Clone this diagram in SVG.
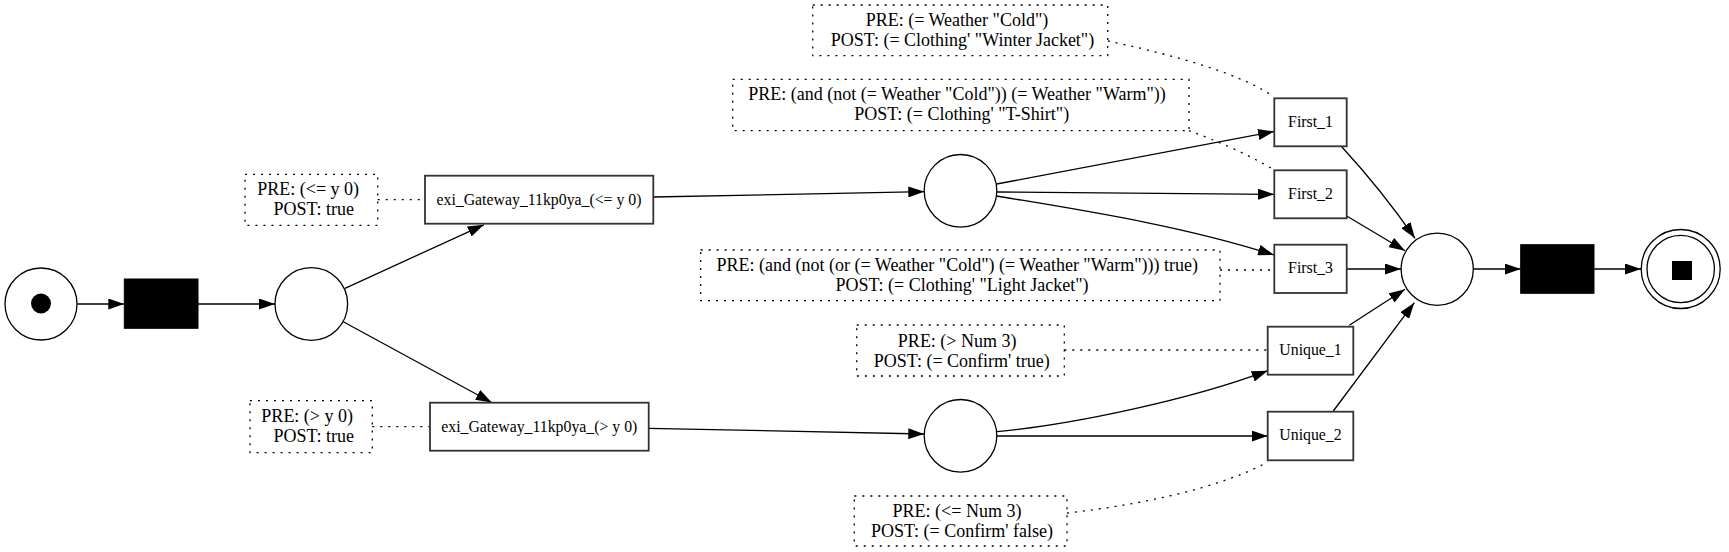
<svg xmlns="http://www.w3.org/2000/svg" width="1729" height="552" viewBox="0 0 1729 552">
<style>
  .place{fill:#fff;stroke:#000;stroke-width:1.3}
  .trans{fill:#fff;stroke:#333;stroke-width:1.8}
  .silent{fill:#000;stroke:#000;stroke-width:1}
  .note{fill:none;stroke:#000;stroke-width:1.3;stroke-dasharray:2 6}
  .lbl{font-family:"Liberation Serif","Times New Roman",serif;font-size:15.8px;fill:#000;text-anchor:middle}
  .ntxt{font-family:"Liberation Serif","Times New Roman",serif;font-size:18px;fill:#000;text-anchor:middle}
  .edge{fill:none;stroke:#000;stroke-width:1.3;marker-end:url(#arr)}
  .dot{fill:none;stroke:#000;stroke-width:1.3;stroke-dasharray:2 6}
</style>
<defs>
  <marker id="arr" markerUnits="userSpaceOnUse" markerWidth="16" markerHeight="11" refX="16" refY="5.5" orient="auto">
    <path d="M0,0 L16,5.5 L0,11 z" fill="#000"/>
  </marker>
</defs>
<rect width="1729" height="552" fill="#fff"/>

<g id="connectors">
  <path class="edge" d="M77.3,304 L124.3,304"/>
  <path class="edge" d="M198,304 L275,304"/>
  <path class="edge" d="M345,288.3 L483.8,224.8"/>
  <path class="edge" d="M343.3,321.7 L491.7,402.5"/>
  <path class="edge" d="M653.3,197 L924.3,191.6"/>
  <path class="edge" d="M648.7,428.3 L924.3,434"/>
  <path class="edge" d="M996.7,184 L1274,131.5"/>
  <path class="edge" d="M996.7,192 L1274,194.3"/>
  <path class="edge" d="M996.7,196 C1080,210 1180,225 1274,255"/>
  <path class="edge" d="M996.7,431.7 C1070,425 1190,400 1267.7,370.7"/>
  <path class="edge" d="M996.7,436 L1267.7,436"/>
  <path class="edge" d="M1341.7,146.7 C1365,172 1392,205 1415,238.3"/>
  <path class="edge" d="M1346.7,216 L1405,250.7"/>
  <path class="edge" d="M1346.7,269 L1401,269"/>
  <path class="edge" d="M1349.3,325.3 L1405,289.3"/>
  <path class="edge" d="M1333.3,411 L1414.3,302.7"/>
  <path class="edge" d="M1473.3,269 L1520.7,269"/>
  <path class="edge" d="M1594,269 L1641,269"/>
  <path class="dot" d="M377.7,199.7 L425,199.7"/>
  <path class="dot" d="M372.3,426.7 L430,426.7"/>
  <path class="dot" d="M1108,41 C1160,52 1240,72 1274,97"/>
  <path class="dot" d="M1189,130.7 C1215,140 1250,155 1274,170"/>
  <path class="dot" d="M1220,270 L1274,270"/>
  <path class="dot" d="M1064.3,350 L1267.7,350"/>
  <path class="dot" d="M1067,513 C1140,505 1220,488 1267.7,462"/>
</g>

<g id="p_start">
  <circle class="place" cx="41" cy="304" r="36"/>
  <circle cx="41" cy="303.5" r="10" fill="#000"/>
</g>
<g id="t_start">
  <rect class="silent" x="124.3" y="279" width="73.7" height="49.3"/>
</g>
<g id="p_split">
  <circle class="place" cx="311.3" cy="304" r="36.3"/>
</g>
<g id="t_gw_le">
  <rect class="trans" x="425" y="175.7" width="228.3" height="48"/>
  <text class="lbl" x="539" y="205">exi_Gateway_11kp0ya_(&lt;= y 0)</text>
</g>
<g id="n_gw_le">
  <rect class="note" x="245" y="174.3" width="132.7" height="51"/>
  <text class="ntxt" x="308.2" y="195">PRE: (&lt;= y 0)</text>
  <text class="ntxt" x="313.7" y="215">POST: true</text>
</g>
<g id="t_gw_gt">
  <rect class="trans" x="430" y="402.7" width="218.7" height="48"/>
  <text class="lbl" x="539.3" y="431.7">exi_Gateway_11kp0ya_(&gt; y 0)</text>
</g>
<g id="n_gw_gt">
  <rect class="note" x="250" y="400.7" width="122.3" height="52"/>
  <text class="ntxt" x="307.2" y="422.3">PRE: (&gt; y 0)</text>
  <text class="ntxt" x="313.7" y="441.7">POST: true</text>
</g>
<g id="p_first">
  <circle class="place" cx="960.5" cy="190.8" r="36.3"/>
</g>
<g id="p_unique">
  <circle class="place" cx="960.5" cy="435.8" r="36.3"/>
</g>
<g id="n_first1">
  <rect class="note" x="812.7" y="5" width="295" height="50.7"/>
  <text class="ntxt" x="957" y="26">PRE: (= Weather "Cold")</text>
  <text class="ntxt" x="962.5" y="46">POST: (= Clothing' "Winter Jacket")</text>
</g>
<g id="n_first2">
  <rect class="note" x="732.7" y="79.3" width="456.3" height="51.4"/>
  <text class="ntxt" x="957" y="100">PRE: (and (not (= Weather "Cold")) (= Weather "Warm"))</text>
  <text class="ntxt" x="961.7" y="120">POST: (= Clothing' "T-Shirt")</text>
</g>
<g id="n_first3">
  <rect class="note" x="700.7" y="250" width="519.3" height="50.7"/>
  <text class="ntxt" x="957.3" y="270.7">PRE: (and (not (or (= Weather "Cold") (= Weather "Warm"))) true)</text>
  <text class="ntxt" x="962" y="290.5">POST: (= Clothing' "Light Jacket")</text>
</g>
<g id="n_unique1">
  <rect class="note" x="856.7" y="325" width="207.6" height="51"/>
  <text class="ntxt" x="957.2" y="346.7">PRE: (&gt; Num 3)</text>
  <text class="ntxt" x="961.8" y="366.7">POST: (= Confirm' true)</text>
</g>
<g id="n_unique2">
  <rect class="note" x="854.3" y="496" width="212.7" height="50"/>
  <text class="ntxt" x="957" y="516.7">PRE: (&lt;= Num 3)</text>
  <text class="ntxt" x="962" y="536.7">POST: (= Confirm' false)</text>
</g>
<g id="t_first1">
  <rect class="trans" x="1274.3" y="98.3" width="72.4" height="48"/>
  <text class="lbl" x="1310.5" y="127.3">First_1</text>
</g>
<g id="t_first2">
  <rect class="trans" x="1274.3" y="170.3" width="72.4" height="48"/>
  <text class="lbl" x="1310.5" y="199.3">First_2</text>
</g>
<g id="t_first3">
  <rect class="trans" x="1274.3" y="244.7" width="72.4" height="48.3"/>
  <text class="lbl" x="1310.5" y="273.3">First_3</text>
</g>
<g id="t_unique1">
  <rect class="trans" x="1267.7" y="326.7" width="85.6" height="48"/>
  <text class="lbl" x="1310.5" y="355">Unique_1</text>
</g>
<g id="t_unique2">
  <rect class="trans" x="1267.7" y="411.7" width="85.6" height="48.6"/>
  <text class="lbl" x="1310.5" y="440">Unique_2</text>
</g>
<g id="p_join">
  <circle class="place" cx="1437.2" cy="269.3" r="36.1"/>
</g>
<g id="t_end">
  <rect class="silent" x="1520.7" y="244.7" width="73.3" height="48.6"/>
</g>
<g id="p_end">
  <circle class="place" cx="1680.7" cy="269" r="39.5"/>
  <circle class="place" cx="1680.7" cy="269" r="33.7"/>
  <rect x="1672" y="261" width="20" height="19" fill="#000"/>
</g>
</svg>
